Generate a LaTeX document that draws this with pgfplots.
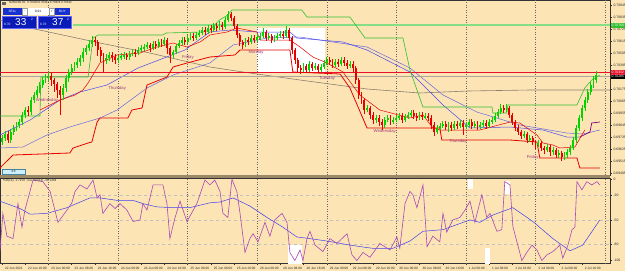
\documentclass[border=0pt]{standalone}
\usepackage{pgfplots}
\pgfplotsset{compat=1.18}
\usepackage{pgfplotstable}
\usepackage{fontspec}
\setmainfont{Liberation Sans}
\definecolor{bg}{HTML}{FCE4B4}
\definecolor{upc}{HTML}{00D400}
\definecolor{dnc}{HTML}{E80000}
\definecolor{chgreen}{HTML}{30C030}
\definecolor{hgreen}{HTML}{86DE86}
\definecolor{bidred}{HTML}{E8102A}
\definecolor{grayline}{HTML}{8C8070}
\definecolor{ma1}{HTML}{6868E0}
\definecolor{ma2}{HTML}{4848F0}
\definecolor{matail}{HTML}{800080}
\definecolor{wr}{HTML}{A848B8}
\definecolor{wrma}{HTML}{4040F0}
\definecolor{daycol}{HTML}{9B3A7A}
\definecolor{sep}{HTML}{9A8866}
\definecolor{btn}{HTML}{1830D0}
\definecolor{bigbtn}{HTML}{0A1CB8}
\pgfplotstableread{
i o c h l
0 142 138 135 145
1 138 134 131 141
2 134 140 131 143
3 140 132 129 143
4 132 128 125 135
5 128 125 122 131
6 125 122 119 128
7 122 115 112 125
8 115 110 107 118
9 110 112 106 116
10 112 100 97 115
11 100 95 92 103
12 95 90 86 98
13 90 85 82 93
14 85 80 77 88
15 80 78 74 83
16 78 76 72 81
17 76 80 73 86
18 80 84 78 92
19 84 90 82 98
20 90 95 86 115
21 95 88 84 100
22 88 78 75 92
23 78 72 69 82
24 72 68 64 75
25 68 65 62 71
26 65 62 58 68
27 62 58 55 66
28 58 52 48 62
29 52 48 45 55
30 48 44 40 51
31 44 40 36 47
32 40 42 37 46
33 42 50 40 56
34 50 56 47 62
35 56 60 53 72
36 60 58 54 64
37 58 55 52 61
38 55 57 52 62
39 57 60 54 64
40 60 58 55 63
41 58 56 53 60
42 56 55 52 59
43 55 57 53 60
44 57 54 51 60
45 54 52 49 56
46 52 53 49 57
47 53 50 47 55
48 50 48 45 52
49 48 47 44 51
50 47 45 42 49
51 45 48 43 52
52 48 44 41 50
53 44 46 41 49
54 46 42 39 48
55 42 44 39 47
56 44 40 37 46
57 40 48 38 54
58 48 55 46 63
59 55 52 50 58
60 52 46 44 54
61 46 43 40 48
62 43 40 37 45
63 40 42 37 45
64 42 38 35 44
65 38 36 33 40
66 36 38 33 41
67 38 35 32 40
68 35 33 30 37
69 33 30 27 35
70 30 32 27 35
71 32 28 25 34
72 28 30 25 33
73 30 26 23 32
74 26 28 23 31
75 28 25 21 30
76 25 27 22 30
77 27 20 17 29
78 20 14 11 22
79 14 18 12 21
80 18 26 16 29
81 26 35 24 38
82 35 42 33 46
83 42 45 40 49
84 45 40 38 47
85 40 42 37 45
86 42 38 35 44
87 38 40 35 43
88 40 37 34 42
89 37 36 33 40
90 36 32 28 38
91 32 38 30 41
92 38 36 33 40
93 36 40 34 43
94 40 38 35 42
95 38 36 33 40
96 36 34 31 38
97 34 36 31 39
98 36 30 26 38
99 30 38 28 41
100 38 50 36 54
101 50 60 48 64
102 60 68 58 72
103 68 70 65 74
104 70 66 63 72
105 66 70 64 73
106 70 64 61 72
107 64 68 62 71
108 68 66 63 70
109 66 70 64 73
110 70 67 64 72
111 67 63 60 69
112 63 60 57 65
113 60 62 57 65
114 62 65 59 68
115 65 62 59 67
116 62 64 59 67
117 64 60 57 66
118 60 63 57 66
119 63 66 60 69
120 66 64 61 68
121 64 68 61 72
122 68 80 66 84
123 80 95 78 99
124 95 100 92 104
125 100 110 98 114
126 110 108 105 112
127 108 115 106 119
128 115 120 112 124
129 120 118 115 123
130 118 122 115 126
131 122 125 119 130
132 125 120 117 128
133 120 118 115 122
134 118 122 115 125
135 122 120 117 124
136 120 118 115 122
137 118 116 113 120
138 116 120 113 123
139 120 117 114 122
140 117 115 112 119
141 115 113 110 117
142 113 116 110 119
143 116 118 113 121
144 118 115 112 120
145 115 117 112 120
146 117 116 113 119
147 116 118 113 121
148 118 125 115 129
149 125 132 122 136
150 132 128 125 134
151 128 126 123 130
152 126 124 121 128
153 124 127 121 130
154 127 125 122 132
155 125 128 122 131
156 128 124 121 130
157 124 126 121 129
158 126 123 120 128
159 123 127 120 135
160 127 125 122 129
161 125 122 119 127
162 122 126 119 129
163 126 124 121 128
164 124 127 121 130
165 127 125 122 129
166 125 123 120 127
167 123 126 120 129
168 126 122 119 128
169 122 120 117 124
170 120 116 113 122
171 116 112 109 118
172 112 108 104 114
173 108 110 105 113
174 110 108 104 112
175 108 115 106 118
176 115 122 113 125
177 122 128 120 131
178 128 132 125 135
179 132 136 130 139
180 136 134 131 138
181 134 140 132 143
182 140 138 135 142
183 138 142 136 145
184 142 145 140 149
185 145 143 140 147
186 143 148 141 151
187 148 150 146 154
188 150 147 144 152
189 147 152 145 156
190 152 150 147 155
191 150 155 148 158
192 155 153 150 158
193 153 157 151 161
194 157 155 152 160
195 155 152 149 158
196 152 148 145 155
197 148 140 137 150
198 140 128 125 143
199 128 118 115 131
200 118 108 105 121
201 108 100 97 111
202 100 92 89 103
203 92 85 82 95
204 85 80 76 88
205 80 75 71 83
}\candles
\begin{document}
\begin{tikzpicture}
\fill[bg] (0pt,0pt) rectangle (625pt,-271pt);
\useasboundingbox (0pt,0pt) rectangle (625pt,-271pt);
\begin{axis}[
  at={(0pt,0pt)}, anchor=north west, scale only axis,
  width=610pt, height=175pt,
  xmin=-0.69, xmax=209.7, ymin=0, ymax=175, y dir=reverse,
  axis line style={draw=black!80, line width=0.5pt},
  xtick=\empty,
  ytick={5,17,29,41,53,65,89,101,113,125,137,149,161,173},
  yticklabels={0.70945,0.70835,0.70725,0.70615,0.70505,0.70395,0.70175,0.70065,0.69955,0.69845,0.69735,0.69625,0.69515,0.69405},
  yticklabel pos=right,
  tick align=outside, major tick length=1.5pt,
  y tick style={draw=black!80, line width=0.3pt},
  yticklabel style={font=\fontsize{3.4}{3.4}\selectfont, xshift=-1.5pt, text=black!85},
  clip=true,
]
\fill[white] (axis cs:87.9,28) rectangle (axis cs:111.4,72);
\pgfplotsinvokeforeach{16,40,64,88,112,136,160,184,208}{
  \draw[dotted, black!60, line width=0.45pt] (axis cs:#1,0) -- (axis cs:#1,175);
}
% gray long line
\addplot[grayline, line width=0.6pt] coordinates {(-0.7,20) (9.7,28) (33.8,43) (51,53) (71.7,67) (85.5,73) (102.8,80) (125.9,89) (144.1,93) (160.7,91) (182.1,90) (209.7,90)};
% moving averages
\addplot[ma1, line width=0.5pt] coordinates {(-0.7,148) (7.2,147) (15.5,135) (23.4,127) (33.8,118) (39.7,110) (50,88) (59,75) (71.7,63) (79.7,45) (91.4,38) (102.8,37) (114.1,42) (125.9,47) (137.2,63) (140.7,68) (152.1,95) (163.8,112) (178.6,125) (194.8,133) (200.3,134) (206.2,130)};
\addplot[ma2, line width=0.5pt] coordinates {(-0.7,135) (9.7,120) (20,100) (26.9,92) (36.2,85) (46.9,68) (63.1,50) (71.7,32) (78.6,30) (87.9,32) (99.3,32) (101.7,38) (117.6,42) (125.9,50) (140.7,72) (152.1,105) (161.4,128) (175.2,127) (186.6,130) (194.8,137) (199.3,137)};
\addplot[matail, line width=0.7pt] coordinates {(199.3,137) (202.8,132) (203.4,123) (206.2,122)};
% horizontal levels
\addplot[hgreen, line width=1.8pt] coordinates {(24.5,25) (209.7,25)};
\addplot[grayline!70, line width=0.6pt] coordinates {(-0.7,76) (209.7,76)};
\addplot[bidred, line width=0.8pt] coordinates {(-0.7,72) (209.7,72)};
% upper channel
\addplot[chgreen, line width=0.6pt] coordinates {(-0.7,116) (13.1,116) (13.4,77) (29.7,77) (31.4,38) (33.1,35) (55.5,35) (56.6,33) (69.3,32) (71.7,30) (75,20) (77.9,15) (79.3,10) (103.4,10) (105.2,17) (120,17) (125.2,38) (138.3,38) (140.7,70) (145.2,107) (169,107) (169.3,113) (174.1,113) (174.5,105) (198.3,105) (201,88) (203.4,80) (206.2,75)};
% lower channel
\addplot[dnc, line width=0.8pt] coordinates {(-0.7,168) (0.3,165) (3.8,155) (23.4,153) (24.5,148) (29.7,143) (31,142) (32.8,122) (33.8,118) (43.4,118) (44.8,110) (48.3,108) (50,85) (56.9,77) (59,67) (63.8,63) (71.7,57) (80.3,55) (82.1,50) (99.3,50) (100.3,72) (116.6,74) (120,88) (125.9,128) (151,128) (151.7,140) (175.2,140) (184.5,142) (185.5,158) (198.3,158) (199.3,168) (206.2,168)};
% trailing line
\addplot[dnc, line width=0.5pt] coordinates {(13.1,110) (20,100) (25.2,95) (27.9,90) (29.7,83) (33.8,63) (39.7,55) (47.6,53) (53.4,47) (59,43) (63.8,47) (68.3,42) (71.7,35) (77.6,32) (81,28) (87.9,32) (89,40) (99.3,40) (102.8,47) (107.2,57) (112.1,63) (117.6,72) (123.4,95) (130.3,110) (140.7,118) (145.2,115) (148.6,128) (151,130) (164.8,130) (175.2,122) (178.6,123) (184.5,135) (186.6,143) (190,145) (192.4,148) (197.6,147) (201,130)};
% candles: wicks and bodies
\addplot[draw=none, mark=none, forget plot,
  restrict expr to domain={\thisrow{o}-\thisrow{c}}{0:1000},
  error bars/.cd, y dir=both, y explicit, error mark=none,
  error bar style={draw=upc, line width=0.5pt}]
  table[x=i, y expr={(\thisrow{h}+\thisrow{l})/2}, y error expr={(\thisrow{l}-\thisrow{h})/2}] {\candles};
\addplot[draw=none, mark=none, forget plot,
  restrict expr to domain={\thisrow{o}-\thisrow{c}}{-1000:-0.01},
  error bars/.cd, y dir=both, y explicit, error mark=none,
  error bar style={draw=dnc, line width=0.5pt}]
  table[x=i, y expr={(\thisrow{h}+\thisrow{l})/2}, y error expr={(\thisrow{l}-\thisrow{h})/2}] {\candles};
\addplot[draw=none, mark=none, forget plot,
  restrict expr to domain={\thisrow{o}-\thisrow{c}}{0:1000},
  error bars/.cd, y dir=both, y explicit, error mark=none,
  error bar style={draw=upc, line width=1.9pt}]
  table[x=i, y expr={(\thisrow{o}+\thisrow{c})/2}, y error expr={abs(\thisrow{c}-\thisrow{o})/2+0.3}] {\candles};
\addplot[draw=none, mark=none, forget plot,
  restrict expr to domain={\thisrow{o}-\thisrow{c}}{-1000:-0.01},
  error bars/.cd, y dir=both, y explicit, error mark=none,
  error bar style={draw=dnc, line width=1.9pt}]
  table[x=i, y expr={(\thisrow{o}+\thisrow{c})/2}, y error expr={abs(\thisrow{c}-\thisrow{o})/2+0.3}] {\candles};
% day labels
\begin{scope}[every node/.style={text=daycol, font=\fontsize{4.2}{4.2}\selectfont, inner sep=0pt}]
\node at (axis cs:15.5,100) {Wednesday};
\node at (axis cs:39.7,88) {Thursday};
\node at (axis cs:64.1,57) {Friday};
\node at (axis cs:87.6,52) {Monday};
\node at (axis cs:112.1,78) {Tuesday};
\node at (axis cs:132,131) {Wednesday};
\node at (axis cs:157.2,141) {Thursday};
\node at (axis cs:183,157) {Friday};
\end{scope}
\end{axis}
% indicator panel
\begin{axis}[
  at={(0pt,-178pt)}, anchor=north west, scale only axis,
  width=610pt, height=85pt,
  xmin=-0.69, xmax=209.7, ymin=-103, ymax=1.5,
  axis line style={draw=black!80, line width=0.5pt},
  xtick={0,8,...,200},
  xticklabels={22 Jun 2021,22 Jun 16:00,23 Jun 00:00,23 Jun 08:00,23 Jun 16:00,24 Jun 00:00,24 Jun 08:00,24 Jun 16:00,25 Jun 00:00,25 Jun 08:00,25 Jun 16:00,28 Jun 00:00,28 Jun 08:00,28 Jun 16:00,29 Jun 00:00,29 Jun 08:00,29 Jun 16:00,30 Jun 00:00,30 Jun 08:00,30 Jun 16:00,1 Jul 00:00,1 Jul 08:00,1 Jul 16:00,2 Jul 00:00,2 Jul 08:00,2 Jul 16:00},
  xticklabel style={font=\fontsize{3.2}{3.2}\selectfont, anchor=north west, xshift=-0.5pt, yshift=1pt, text=black!85},
  ytick={-20,-50,-80},
  extra y ticks={0,-100},
  extra y tick style={ymajorgrids=false},
  ymajorgrids,
  major grid style={dashed, black!25, line width=0.4pt},
  yticklabel pos=right,
  yticklabel style={font=\fontsize{3.4}{3.4}\selectfont, xshift=-1.5pt, text=black!85},
  /pgf/number format/assume math mode=true,
  tick align=outside, major tick length=1.5pt,
  tick style={draw=black!80, line width=0.3pt},
  clip=true,
]
\fill[white] (axis cs:98.6,-81) rectangle (axis cs:103.4,-104);
\fill[white] (axis cs:160.7,0) rectangle (axis cs:162.4,-12);
\fill[white] (axis cs:173.4,-2) rectangle (axis cs:175.2,-18);
\fill[white] (axis cs:166.6,-85) rectangle (axis cs:168.3,-104);
\pgfplotsinvokeforeach{16,40,64,88,112,136,160,184,208}{
  \draw[dotted, black!60, line width=0.45pt] (axis cs:#1,-103) -- (axis cs:#1,1.5);
}
\addplot[wrma, line width=0.5pt] coordinates {(-0.7,-27) (6.2,-36) (9.7,-43) (15.5,-42) (22.4,-35) (30.3,-23) (33.8,-23) (39.7,-26) (45.2,-26) (48.6,-30) (53.4,-34) (59,-35) (64.8,-35) (71.7,-29) (75.2,-28) (79.7,-23) (85.5,-33) (91.4,-47) (96.9,-59) (101.7,-71) (106.2,-73) (112.1,-76) (120,-81) (127.9,-85) (134.8,-85) (140.7,-76) (145.2,-64) (152.1,-62) (161.4,-50) (164.8,-53) (169.3,-44) (176.2,-35) (183.1,-52) (190,-73) (195.9,-88) (200.3,-81) (206.2,-50)};
\addplot[wr, line width=0.6pt] coordinates {(-0.7,-88) (0.3,-42) (1.7,-70) (3.8,-73) (5.5,-30) (6.9,-59) (7.9,-38) (10.7,-1) (14.1,-3) (16.6,-15) (19.3,-53) (22.4,-38) (24.1,-29) (25.2,-15) (26.9,-7) (29.3,-12) (31.4,-1) (32.8,-23) (33.8,-19) (34.8,-42) (37.2,-30) (39,-36) (40.7,-30) (43.1,-38) (45.2,-52) (47.6,-50) (48.6,-30) (50,-38) (52.1,-7) (55.5,-7) (56.9,-30) (57.9,-73) (59.7,-47) (61.4,-27) (63.8,-52) (67.2,-30) (70,-1) (71.7,-7) (73.4,-1) (75.2,-15) (76.2,-42) (77.9,-47) (79.3,0) (81,-15) (82.1,-42) (83.8,-90) (85.5,-73) (86.6,-67) (88.3,-77) (90.7,-53) (92.4,-70) (94.1,-50) (96.6,-42) (98.3,-53) (99.3,-90) (101,-100) (102.8,-87) (103.8,-100) (105.2,-73) (106.2,-64) (108,-81) (110.7,-89) (113.1,-73) (115.5,-79) (119,-67) (120.7,-93) (122.4,-100) (124.5,-90) (126.9,-96) (130.3,-79) (133.8,-87) (136.2,-71) (137.2,-85) (139,-30) (140.7,-15) (141.7,-19) (143.1,-35) (145.2,-7) (146.6,-83) (148.6,-70) (151,-77) (152.1,-42) (153.4,-65) (155.5,-50) (157.9,-47) (159.7,-38) (161.4,-27) (163.1,-53) (165.5,-19) (167.2,-47) (168.3,-42) (170.7,-64) (172.4,-62) (173.4,-3) (175.2,-7) (176.2,-58) (177.6,-77) (179.3,-100) (181,-90) (182.8,-81) (184.5,-87) (186.2,-100) (187.9,-93) (190,-89) (192.4,-81) (193.4,-97) (195.2,-81) (196.6,-62) (197.6,-59) (198.3,-3) (200,-13) (201.7,-3) (203.4,-7) (205.2,-3) (206.2,-7)};
\end{axis}
% separator band between panels
\fill[sep] (0pt,-175pt) rectangle (610pt,-178pt);
% header texts
\node[anchor=west, font=\fontsize{2.9}{2.9}\selectfont, text=black!85, inner sep=0pt] at (9pt,-3pt) {NZDUSD,H1\ \ 0.70340 0.70342 0.70326 0.70332};
\fill[black!60] (2pt,-1.5pt) rectangle (6pt,-4.5pt);
\node[anchor=west, font=\fontsize{3.1}{3.1}\selectfont, text=black!85, inner sep=0pt] at (3pt,-180.5pt) {\%R(14) -1.7978 ; ma \%R(14) -38.1204};
% one-click trading panel
\begin{scope}[font=\fontsize{3.2}{3.2}\selectfont, inner sep=0pt]
\fill[btn] (3pt,-8pt) rectangle (22pt,-15pt);
\node[text=white] at (12.5pt,-11.5pt) {SELL};
\fill[white] (22.5pt,-8pt) rectangle (54pt,-15pt);
\draw[black!40, line width=0.3pt] (22.5pt,-8pt) rectangle (27pt,-15pt);
\draw[black!40, line width=0.3pt] (49.5pt,-8pt) rectangle (54pt,-15pt);
\node at (24.75pt,-11.5pt) {-};
\node at (51.75pt,-11.5pt) {+};
\node at (38pt,-11.5pt) {0.01};
\fill[btn] (55pt,-8pt) rectangle (70pt,-15pt);
\node[text=white] at (62.5pt,-11.5pt) {BUY};
\fill[bigbtn] (2pt,-16pt) rectangle (36pt,-28.5pt);
\fill[bigbtn] (38pt,-16pt) rectangle (71pt,-28.5pt);
\draw[blue!60!white, line width=0.3pt] (2pt,-16pt) rectangle (36pt,-28.5pt);
\draw[blue!60!white, line width=0.3pt] (38pt,-16pt) rectangle (71pt,-28.5pt);
\node[text=white, anchor=west] at (4pt,-24pt) {0.70};
\node[text=white, anchor=west, font=\fontsize{10}{10}\selectfont] at (15pt,-22.5pt) {33};
\node[text=white, anchor=west] at (31pt,-19.5pt) {2};
\node[text=white, anchor=west] at (40pt,-24pt) {0.70};
\node[text=white, anchor=west, font=\fontsize{10}{10}\selectfont] at (52pt,-22.5pt) {37};
\node[text=white, anchor=west] at (67pt,-19.5pt) {2};
\end{scope}
% spread box
\fill[cyan!20] (2pt,-169pt) rectangle (25pt,-174.5pt);
\draw[cyan!60!black, line width=0.3pt] (2pt,-169pt) rectangle (25pt,-174.5pt);
\node[font=\fontsize{3}{3}\selectfont, inner sep=0pt] at (13.5pt,-171.75pt) {4.5};
% price labels on the right
\begin{scope}[font=\fontsize{3.4}{3.4}\selectfont, inner sep=0pt]
\fill[chgreen] (610.5pt,-22.5pt) rectangle (625pt,-27.5pt);
\node[text=white, anchor=west] at (611.5pt,-25pt) {0.70760};
\fill[bidred] (610.5pt,-69.5pt) rectangle (625pt,-74.5pt);
\node[text=white, anchor=west] at (611.5pt,-72pt) {0.70332};
\fill[black] (610.5pt,-74.5pt) rectangle (625pt,-79pt);
\node[text=white, anchor=west] at (611.5pt,-76.75pt) {0.70285};
\end{scope}
\end{tikzpicture}
\end{document}
